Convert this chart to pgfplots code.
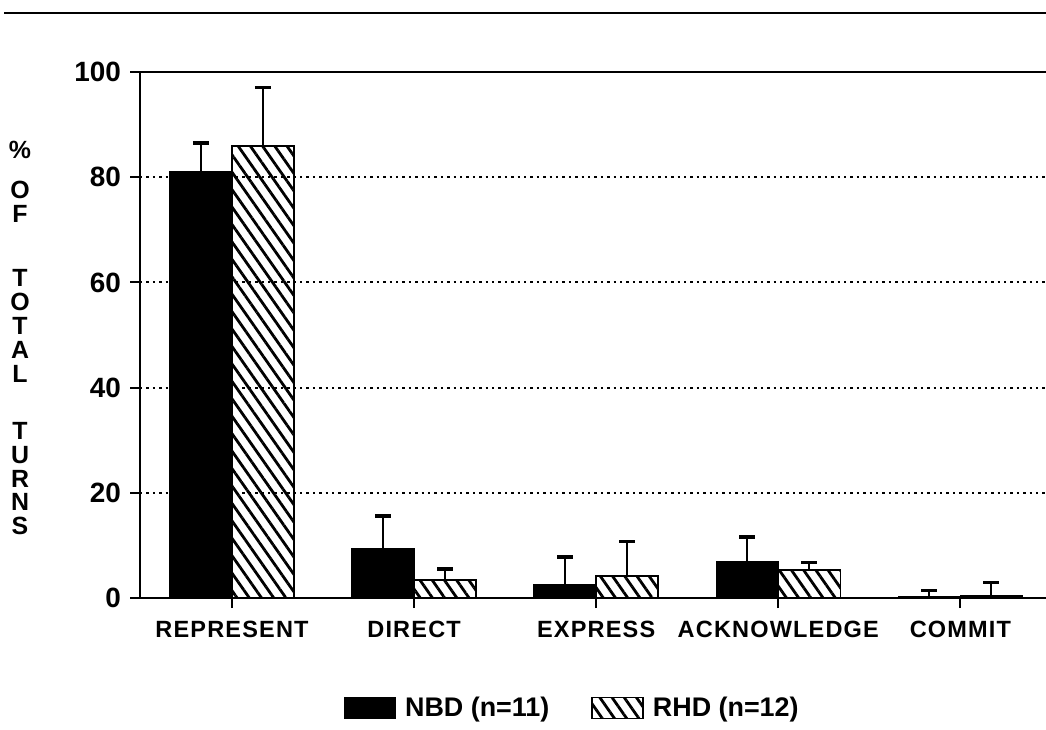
\documentclass[border=0pt]{standalone}
\usepackage{pgfplots}
\usepackage{pgfplotstable}
\pgfplotsset{compat=1.18}
\usepackage{fontspec}
\setmainfont{Liberation Sans}
\usetikzlibrary{patterns.meta}
\pgfplotstableread{
x nbd nbde rhd rhde
0 81.0 5.5 85.9 11.1
1 9.3 6.3 3.4 2.1
2 2.5 5.3 4.2 6.6
3 6.8 4.8 5.3 1.5
4 0.3 1.2 0.4 2.6
}\datatable
\begin{document}
\begin{tikzpicture}
\useasboundingbox (0bp,0bp) rectangle (523bp,-365bp);
\draw[line width=1.2bp] (2bp,-6.5bp) -- (523bp,-6.5bp);
\begin{axis}[
  at={(70bp,-299bp)}, anchor=south west,
  width=453bp, height=263bp, scale only axis,
  xmin=-0.505, xmax=4.47, ymin=0, ymax=100,
  axis x line*=bottom, axis y line*=left,
  axis line style={line width=1bp, -},
  clip=false,
  ytick={0,20,40,60,80},
  extra y ticks={100},
  extra y tick style={grid=major, major grid style={solid, line width=1.2bp, black}},
  ymajorgrids=true,
  grid style={line width=1bp, dash pattern=on 1.2bp off 2bp, black},
  tick align=outside,
  major tick length=5bp,
  tick style={line width=1bp, black},
  xtick={0,1,2,3,4},
  xticklabels={REPRESENT,DIRECT,EXPRESS,ACKNOWLEDGE,COMMIT},
  xticklabel style={font=\fontsize{11.8}{13}\selectfont\bfseries\addfontfeature{LetterSpace=5}, yshift=-3bp},
  yticklabel style={font=\fontsize{14}{16}\selectfont\bfseries, xshift=-1bp},
  /pgf/number format/assume math mode=true,
  ybar=0pt, bar width=31bp,
  error bars/y dir=plus, error bars/y explicit,
  error bars/error bar style={line width=1bp, black},
  error bars/error mark options={rotate=90, line width=1.6bp, mark size=4bp, black},
  legend columns=2,
  legend style={draw=none, at={(0.478,-0.209)}, anchor=center,
    font=\fontsize{13.5}{15}\selectfont\bfseries,
    /tikz/every odd column/.append style={column sep=2.5bp},
    /tikz/every even column/.append style={column sep=19bp}},
  legend image code/.code={\draw[#1, line width=0.8bp] (0bp,-5.25bp) rectangle (25.5bp,5.25bp);},
]
\addplot[fill=black, draw=black, line width=0.8bp] table[x=x, y=nbd, y error=nbde] {\datatable};
\addplot[draw=black, line width=0.8bp, pattern={Lines[angle=-55, distance=5bp, line width=1.4bp]}] table[x=x, y=rhd, y error=rhde] {\datatable};
\legend{NBD (n=11), RHD (n=12)}
\end{axis}
\tikzset{ylab/.style={font=\fontsize{12.5}{12}\selectfont\bfseries, align=center, inner sep=0pt}}
\node[ylab] at (10bp,-75bp) {\%};
\node[ylab] at (10bp,-101bp) {O\\F};
\node[ylab] at (10bp,-163bp) {T\\O\\T\\A\\L};
\node[ylab] at (10bp,-239.3bp) {T\\U\\R\\N\\S};
\end{tikzpicture}
\end{document}
